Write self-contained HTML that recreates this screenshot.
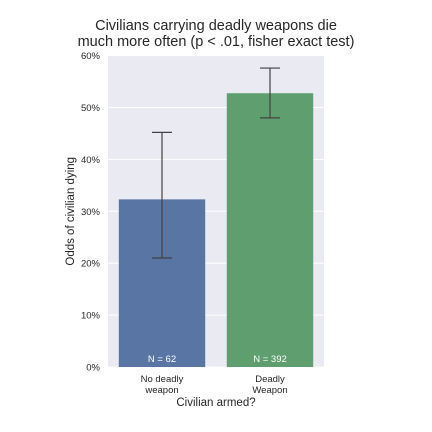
<!DOCTYPE html>
<html><head><meta charset="utf-8"><style>
body{margin:0;background:#fff;}
svg{display:block;font-family:"Liberation Sans",sans-serif;}
</style></head><body>
<svg id="chart" width="432" height="432" xmlns="http://www.w3.org/2000/svg"></svg>
<script>
const categories = ["No deadly|weapon", "Deadly|Weapon"];
const values = [32.3, 52.75];
const errLow = [21.0, 48.0];
const errHigh = [45.2, 57.6];
const counts = ["N = 62", "N = 392"];
const yTicks = [0, 10, 20, 30, 40, 50, 60];
const colors = ["#5975a4", "#5f9e6e"];

const NS = "http://www.w3.org/2000/svg";
const svg = document.getElementById("chart");
const L = 108, R = 324, T = 55.6, B = 367, yMax = 60;
const y = v => B - (v / yMax) * (B - T);
const band = (R - L) / categories.length;
const xc = i => L + band * (i + 0.5);
function mk(tag, attrs, text) {
  const e = document.createElementNS(NS, tag);
  for (const k in attrs) e.setAttribute(k, attrs[k]);
  if (text !== undefined) e.textContent = text;
  svg.appendChild(e);
  return e;
}
let e = mk("rect", {x: L, y: T, width: R - L, height: B - T, fill: "#eaeaf2"});


yTicks.forEach(t => {
  let g = mk("line", {x1: L, x2: R, y1: y(t), y2: y(t), stroke: "#fff", "stroke-width": 1});
  
  
  let lb = mk("text", {x: L - 8, y: y(t) + 3.5, "text-anchor": "end", "font-size": 9.5, fill: "#262626"}, t + "%");
  
  
});
categories.forEach((c, i) => {
  const w = band * 0.8;
  let b = mk("rect", {x: xc(i) - w / 2, y: y(values[i]), width: w, height: B - y(values[i]), fill: colors[i]});
  
  
  let el = mk("line", {x1: xc(i), x2: xc(i), y1: y(errHigh[i]), y2: y(errLow[i]), stroke: "#424242", "stroke-width": 1.2});
  
  
  [errHigh[i], errLow[i]].forEach(v => {
    let cap = mk("line", {x1: xc(i) - 10, x2: xc(i) + 10, y1: y(v), y2: y(v), stroke: "#424242", "stroke-width": 1.2});
    
    
  });
  let n = mk("text", {x: xc(i), y: B - 5, "text-anchor": "middle", "font-size": 9.5, fill: "#fff"}, counts[i]);
  
  
  c.split("|").forEach((ln, k) => {
    let t = mk("text", {x: xc(i), y: B + 15 + k * 11, "text-anchor": "middle", "font-size": 9.5, fill: "#262626"}, ln);
    
    
  });
});
let xt = mk("text", {x: (L + R) / 2, y: 406, "text-anchor": "middle", "font-size": 11.5, fill: "#262626"}, "Civilian armed?");


let yt = mk("text", {x: 0, y: 0, transform: `translate(74,${(T + B) / 2}) rotate(-90)`, "text-anchor": "middle", "font-size": 11.5, fill: "#262626"}, "Odds of civilian dying");


["Civilians carrying deadly weapons die", "much more often (p < .01, fisher exact test)"].forEach((s, k) => {
  let t = mk("text", {x: 216, y: 30 + k * 16, "text-anchor": "middle", "font-size": 14.5, fill: "#262626"}, s);
  
  
});
</script>
</body></html>
